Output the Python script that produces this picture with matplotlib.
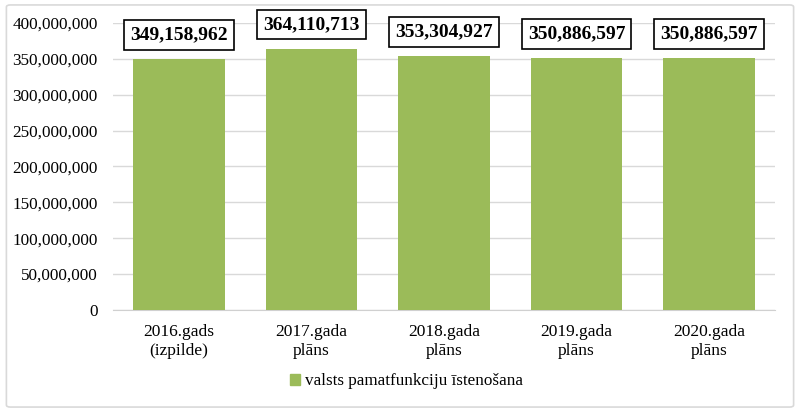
import matplotlib
matplotlib.use("Agg")
import matplotlib.pyplot as plt
from matplotlib.patches import FancyBboxPatch, Patch
from matplotlib.ticker import FuncFormatter

categories = ["2016.gads\n(izpilde)", "2017.gada\nplāns", "2018.gada\nplāns", "2019.gada\nplāns", "2020.gada\nplāns"]
values = [349158962, 364110713, 353304927, 350886597, 350886597]
series_name = "valsts pamatfunkciju īstenošana"
yticks = [0, 50000000, 100000000, 150000000, 200000000, 250000000, 300000000, 350000000, 400000000]

plt.rcParams['font.family'] = ['Liberation Serif', 'DejaVu Serif']
green = "#9BBB59"

fig = plt.figure(figsize=(8, 4.12), dpi=100)
ax = fig.add_axes([0.141, 0.2476, 0.828, 0.6966])

x = list(range(len(categories)))
bars = ax.bar(x, values, width=0.69, color=green, zorder=3)

ax.set_xlim(-0.5, len(categories) - 0.5)
ax.set_ylim(0, 400000000)
ax.set_yticks(yticks)
ax.yaxis.set_major_formatter(FuncFormatter(lambda v, p: f"{int(v):,}"))
ax.grid(axis='y', color='#D9D9D9', linewidth=1, zorder=0)
for s in ['top', 'right', 'left']:
    ax.spines[s].set_visible(False)
ax.spines['bottom'].set_color('#D0D0D0')
ax.tick_params(axis='y', length=0, labelsize=12.3, pad=11)
ax.tick_params(axis='x', length=0, labelsize=12.5, pad=10)
ax.set_xticks(x)
ax.set_xticklabels(categories, linespacing=1.25)

for xi, v in zip(x, values):
    ax.annotate(f"{v:,}", xy=(xi, v), xytext=(0, 17.5), textcoords='offset points',
                ha='center', va='center', fontsize=14, fontweight='bold',
                bbox=dict(boxstyle='square,pad=0.32', fc='white', ec='black', lw=1.2), zorder=5)

fig.legend(handles=[Patch(color=green, label=series_name)], loc='center',
           bbox_to_anchor=(0.508, 0.075), frameon=False, fontsize=12.3,
           handlelength=0.6, handleheight=0.6, handletextpad=0.3)

border = FancyBboxPatch((0.008, 0.012), 0.984, 0.976, boxstyle='round,pad=0,rounding_size=0.005',
                        transform=fig.transFigure, fc='none', ec='#D9D9D9', lw=1.2)
fig.patches.append(border)

fig.savefig("out.png", dpi=100)
